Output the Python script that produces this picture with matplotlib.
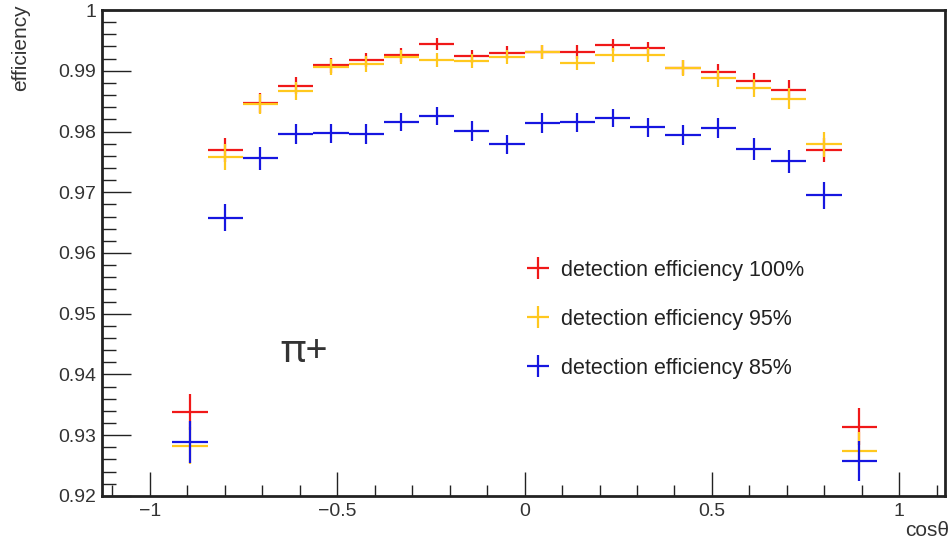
import matplotlib
matplotlib.use("Agg")
import matplotlib.pyplot as plt
from matplotlib.ticker import MultipleLocator
import numpy as np

plt.rcParams['font.family'] = ['Liberation Sans', 'DejaVu Sans']
plt.rcParams['axes.unicode_minus'] = True

# 20 bins in cos(theta)
bin_edges = np.linspace(-0.94, 0.94, 21)
cos_theta = 0.5 * (bin_edges[:-1] + bin_edges[1:])
half_width = 0.5 * (bin_edges[1] - bin_edges[0])

eff_100 = [0.9338, 0.9770, 0.9847, 0.9875, 0.9909, 0.9918, 0.9926, 0.9944, 0.9924, 0.9930,
           0.9931, 0.9931, 0.9942, 0.9937, 0.9905, 0.9898, 0.9883, 0.9868, 0.9770, 0.9314]
eff_95 = [0.9283, 0.9758, 0.9845, 0.9867, 0.9906, 0.9911, 0.9923, 0.9918, 0.9916, 0.9923,
          0.9931, 0.9913, 0.9926, 0.9926, 0.9905, 0.9888, 0.9872, 0.9854, 0.9779, 0.9274]
eff_85 = [0.9289, 0.9658, 0.9756, 0.9796, 0.9797, 0.9796, 0.9816, 0.9826, 0.9801, 0.9779,
          0.9814, 0.9815, 0.9822, 0.9807, 0.9794, 0.9806, 0.9771, 0.9751, 0.9695, 0.9258]

err_100 = [0.0030, 0.0020, 0.0016, 0.0014, 0.0012, 0.0012, 0.0011, 0.0010, 0.0011, 0.0011,
           0.0011, 0.0011, 0.0010, 0.0011, 0.0012, 0.0013, 0.0014, 0.0016, 0.0020, 0.0030]
err_95 = [0.0031, 0.0021, 0.0017, 0.0015, 0.0013, 0.0013, 0.0012, 0.0012, 0.0012, 0.0012,
          0.0012, 0.0012, 0.0012, 0.0012, 0.0013, 0.0014, 0.0015, 0.0017, 0.0021, 0.0031]
err_85 = [0.0034, 0.0022, 0.0019, 0.0017, 0.0016, 0.0016, 0.0015, 0.0015, 0.0016, 0.0016,
          0.0016, 0.0016, 0.0015, 0.0016, 0.0016, 0.0016, 0.0018, 0.0019, 0.0022, 0.0033]

series = [
    (eff_100, err_100, '#f01818', 'detection efficiency 100%'),
    (eff_95, err_95, '#ffc81e', 'detection efficiency 95%'),
    (eff_85, err_85, '#1616e0', 'detection efficiency 85%'),
]

fig = plt.figure(figsize=(9.53, 5.42), dpi=100)
ax = fig.add_axes([0.107, 0.085, 0.885, 0.8965])

for vals, errs, col, lab in series:
    ax.errorbar(cos_theta, vals, xerr=half_width, yerr=errs, fmt='none',
                ecolor=col, elinewidth=1.6, capsize=0, label=lab)

ax.set_xlim(-1.128, 1.123)
ax.set_ylim(0.92, 1.0)

ax.xaxis.set_major_locator(MultipleLocator(0.5))
ax.xaxis.set_minor_locator(MultipleLocator(0.1))
ax.yaxis.set_major_locator(MultipleLocator(0.01))
ax.yaxis.set_minor_locator(MultipleLocator(0.002))
ax.xaxis.set_major_formatter(plt.FuncFormatter(lambda v, p: ('%g' % v).replace('-', '\u2212')))
ax.yaxis.set_major_formatter(plt.FuncFormatter(lambda v, p: '%g' % round(v, 2)))

ax.tick_params(axis='both', which='both', direction='in', top=False, right=False,
               labelsize=14, color='#222222', width=1.0)
ax.tick_params(axis='x', which='major', length=17, pad=5)
ax.tick_params(axis='x', which='minor', length=8)
ax.tick_params(axis='y', which='major', length=21, pad=4)
ax.tick_params(axis='y', which='minor', length=10)
for lbl in ax.get_xticklabels() + ax.get_yticklabels():
    lbl.set_color('#333333')
for sp in ax.spines.values():
    sp.set_linewidth(2.0)
    sp.set_color('#222222')

leg = ax.legend(loc='upper left', bbox_to_anchor=(0.479, 0.526), frameon=False,
                fontsize=15.5, handlelength=1.2, handletextpad=0.45, labelspacing=1.3)
for t in leg.get_texts():
    t.set_color('#222222')

ax.text(-0.652, 0.9437, 'π+', fontsize=28, color='#333333', va='center', ha='left',
        family=['Noto Sans', 'DejaVu Sans'])

fig.text(0.022, 0.992, 'efficiency', rotation=90, ha='center', va='top',
         fontsize=15, color='#333333')
fig.text(0.996, 0.004, 'cosθ', ha='right', va='bottom', fontsize=15, color='#333333')

fig.savefig('out.png', dpi=100, facecolor='white')
